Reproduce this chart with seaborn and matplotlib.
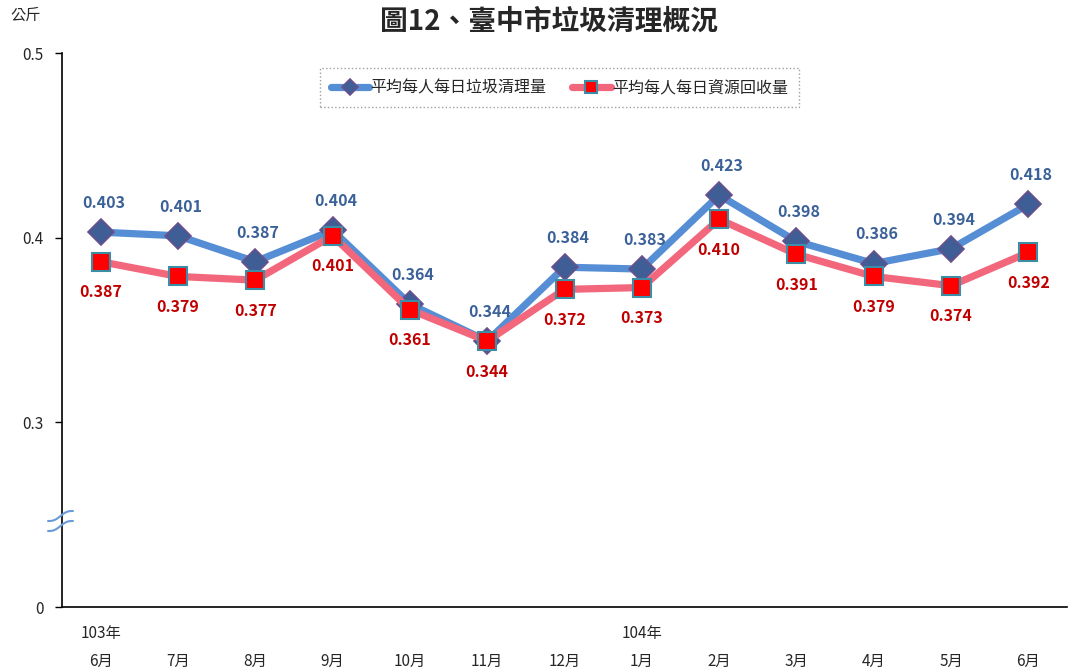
import numpy as np
import pandas as pd
import seaborn as sns
import matplotlib.pyplot as plt

sns.set_theme(style="white")
plt.rcParams['font.family'] = ['Noto Sans CJK TC', 'DejaVu Sans']

# Data
months = ["6月", "7月", "8月", "9月", "10月", "11月", "12月",
          "1月", "2月", "3月", "4月", "5月", "6月"]
year_labels = {0: "103年", 7: "104年"}
garbage = [0.403, 0.401, 0.387, 0.404, 0.364, 0.344, 0.384,
           0.383, 0.423, 0.398, 0.386, 0.394, 0.418]
recycle = [0.387, 0.379, 0.377, 0.401, 0.361, 0.344, 0.372,
           0.373, 0.410, 0.391, 0.379, 0.374, 0.392]
series_names = ["平均每人每日垃圾清理量", "平均每人每日資源回收量"]
ytick_vals = [0.2, 0.3, 0.4, 0.5]
ytick_labels = ["0", "0.3", "0.4", "0.5"]

df = pd.DataFrame({"pos": np.arange(len(months)), "month": months,
                   "garbage": garbage, "recycle": recycle})

fig = plt.figure(figsize=(10.69, 6.72), dpi=100)
ax = fig.add_axes([62 / 1069, 65 / 672, 1005 / 1069, 554 / 672])

sns.lineplot(data=df, x="pos", y="garbage", ax=ax, color="#558ED5", linewidth=5.2,
             marker="D", markersize=13, markerfacecolor="#3F5E96",
             markeredgecolor="#6A4F8C", markeredgewidth=1.2,
             label=series_names[0])
sns.lineplot(data=df, x="pos", y="recycle", ax=ax, color="#F2677C", linewidth=5.2,
             marker="s", markersize=13, markerfacecolor="#FF0000",
             markeredgecolor="#3C8EA6", markeredgewidth=1.5,
             label=series_names[1])

# Data labels
for i, row in df.iterrows():
    ax.annotate(f"{row['garbage']:.3f}", (row["pos"], row["garbage"]),
                xytext=(2, 21), textcoords="offset points", ha="center", va="center",
                fontsize=11.5, fontweight="bold", color="#3B6199")
    ax.annotate(f"{row['recycle']:.3f}", (row["pos"], row["recycle"]),
                xytext=(0, -22), textcoords="offset points", ha="center", va="center",
                fontsize=11.5, fontweight="bold", color="#C00000")

# Axes
ax.set_xlim(-0.5, len(months) - 0.5)
ax.set_ylim(0.2, 0.5)
ax.set_yticks(ytick_vals)
ax.set_yticklabels(ytick_labels, fontsize=11)
ax.set_xticks(df["pos"])
ax.set_xticklabels(months, fontsize=11)
ax.set_xticks(np.arange(len(months) + 1) - 0.5, minor=True)
ax.tick_params(axis="x", which="major", length=0, pad=33)
ax.tick_params(axis="x", which="minor", length=5, width=1, color="black", direction="out")
ax.tick_params(axis="y", length=5, width=1, color="black", direction="out", pad=8, left=True)
ax.set_xlabel("")
ax.set_ylabel("")
ax.grid(False)
for side in ["top", "right"]:
    ax.spines[side].set_visible(False)
for side in ["left", "bottom"]:
    ax.spines[side].set_color("black")
    ax.spines[side].set_linewidth(1.2)

for i, yl in year_labels.items():
    ax.text(i, -0.047, yl, transform=ax.get_xaxis_transform(),
            ha="center", va="center", fontsize=11)

# Axis break marker
t = np.linspace(0, 1, 30)
bx = 48 + 25 * t
for y0 in [521, 531]:
    by = y0 - 10 * (t - np.sin(2 * np.pi * t) / (2 * np.pi))
    fig.add_artist(plt.Line2D(bx / 1069, 1 - by / 672, color="#6A9BD8", linewidth=1.5))

leg = ax.legend(loc="upper center", bbox_to_anchor=(0.495, 0.973), ncol=2,
                fontsize=11.5, frameon=True, fancybox=False, handlelength=2.4,
                columnspacing=1.6, handletextpad=0.1, borderpad=0.7, borderaxespad=0,
                markerscale=0.65)
leg.get_frame().set_linestyle(":")
leg.get_frame().set_edgecolor("#888888")
leg.get_frame().set_linewidth(1)

fig.text(549 / 1069, 1 - 22 / 672, "圖12、臺中市垃圾清理概況", ha="center", va="center",
         fontsize=20, fontweight="bold")
fig.text(10 / 1069, 1 - 15 / 672, "公斤", ha="left", va="center", fontsize=11)

fig.savefig("out.png", dpi=100)
